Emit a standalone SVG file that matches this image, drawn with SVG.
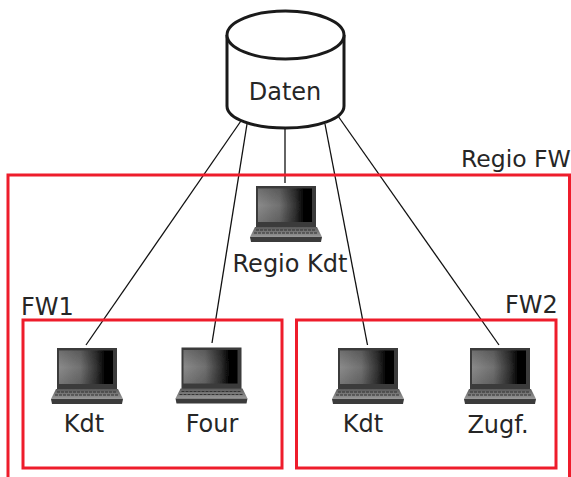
<svg xmlns="http://www.w3.org/2000/svg" width="571" height="477" viewBox="0 0 571 477">
<style>
text{font-family:"DejaVu Sans",Verdana,sans-serif;font-size:24px;fill:#262626}
.m{text-anchor:middle}
.box{fill:none;stroke:#ee1c2b;stroke-width:3}
.link{stroke:#111;stroke-width:1.3;fill:none}
.cyl{fill:#fff;stroke:#1a1a1a;stroke-width:3}
</style>
<defs>
<linearGradient id="scr" x1="0" x2="1" y1="0" y2="0"><stop offset="0" stop-color="#8a8a8a"/><stop offset=".4" stop-color="#707070"/><stop offset=".7" stop-color="#303030"/><stop offset=".84" stop-color="#050505"/><stop offset="1" stop-color="#000"/></linearGradient>
<linearGradient id="shade" x1="0" x2="0" y1="0" y2="1"><stop offset="0" stop-color="#000" stop-opacity=".2"/><stop offset=".5" stop-color="#000" stop-opacity="0"/><stop offset="1" stop-color="#000" stop-opacity=".15"/></linearGradient>
<linearGradient id="key" x1="0" x2="0" y1="0" y2="1"><stop offset="0" stop-color="#5a5a5a"/><stop offset="1" stop-color="#999"/></linearGradient>
<filter id="soft" x="-5%" y="-5%" width="110%" height="110%"><feGaussianBlur stdDeviation="0.5"/></filter>
<g id="laptop" filter="url(#soft)">
<path d="M6 0H66V42H6Z" fill="#3a3a3a"/>
<path d="M8 2.500H62V36H8Z" fill="url(#scr)"/>
<path d="M8 2.500H62V36H8Z" fill="url(#shade)"/>
<path d="M5 41H67L72 51H0Z" fill="url(#key)"/>
<path d="M6 44H66M4 47H68" stroke="#333" stroke-width="1.2" stroke-dasharray="3 1" fill="none"/>
<path d="M0 51H72L71 56H1Z" fill="#3a3a3a"/>
</g>
</defs>
<g id="connectors">
<path class="link" d="M243 118L86 345"/>
<path class="link" d="M247 124L212 343"/>
<path class="link" d="M285 128V183"/>
<path class="link" d="M325 124L367.500 345"/>
<path class="link" d="M338 116L499 345"/>
</g>
<g id="regio-fw"><path class="box" d="M8 477V175H569.500V477"/><text x="461" y="167" style="font-size:23.500px">Regio FW</text></g>
<g id="fw1"><rect class="box" x="23" y="320" width="259" height="148"/><text x="21" y="315">FW1</text></g>
<g id="fw2"><rect class="box" x="296.500" y="320" width="259.500" height="148"/><text x="505" y="313">FW2</text></g>
<g id="daten">
<path class="cyl" d="M227 35V106C227 119 254 128 285.500 128S344 119 344 106V35"/>
<ellipse class="cyl" cx="285.500" cy="35" rx="58.500" ry="24"/>
<text class="m" x="285" y="100">Daten</text>
</g>
<g id="regio-kdt"><use href="#laptop" x="250" y="186"/><text class="m" x="290" y="272">Regio Kdt</text></g>
<g id="fw1-kdt"><use href="#laptop" x="51" y="348"/><text class="m" x="84" y="432">Kdt</text></g>
<g id="fw1-four"><use href="#laptop" x="175.500" y="347.500"/><text class="m" x="212" y="432">Four</text></g>
<g id="fw2-kdt"><use href="#laptop" x="332" y="348"/><text class="m" x="363" y="432">Kdt</text></g>
<g id="fw2-zugf"><use href="#laptop" x="464" y="348"/><text class="m" x="498" y="433">Zugf.</text></g>
</svg>
